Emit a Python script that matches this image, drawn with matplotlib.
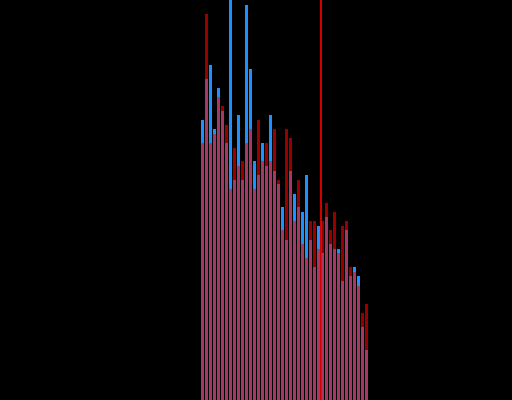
import matplotlib
matplotlib.use("Agg")
import matplotlib.pyplot as plt
import numpy as np

positions = list(range(42))
blue_values = [70, 80.25, 83.75, 67.75, 78, 72.25, 64.25, 102, 55, 71.25, 55, 98.75,
               82.75, 59.75, 56.25, 64.25, 58.5, 71.25, 57.25, 54, 48.25, 40, 57.25,
               51.5, 48.25, 47, 56.25, 40, 33.25, 43.5, 36.75, 45.75, 39, 37.75, 37.75,
               29.75, 42.5, 31, 33.25, 31, 18.25, 12.5]
red_values = [64.25, 96.5, 64.25, 66.5, 75.75, 73.5, 68.75, 52.75, 63, 58.5, 59.75, 64.25,
              67.75, 52.75, 70, 59.75, 64.25, 59.75, 67.75, 55, 42.5, 67.75, 65.5, 44.75,
              55, 39, 35.5, 44.75, 44.75, 37.75, 44.75, 49.25, 42.5, 47, 36.75, 43.5,
              44.75, 33.25, 32, 28.5, 21.75, 24]
marker_position = 29.5

fig = plt.figure(figsize=(5.12, 4.0), dpi=100, facecolor="black")
ax = fig.add_axes([0, 0, 1, 1])
ax.set_facecolor("black")
ax.bar(positions, blue_values, width=0.75, color="#1E90FF", linewidth=0)
ax.bar(positions, red_values, width=0.75, color="red", alpha=0.6, linewidth=0)
ax.axvline(marker_position, color="red", linewidth=1.2)
ax.set_xlim(-50.625, 77.375)
ax.set_ylim(0, 100)
ax.axis("off")
fig.savefig("out.png", dpi=100, facecolor="black")
